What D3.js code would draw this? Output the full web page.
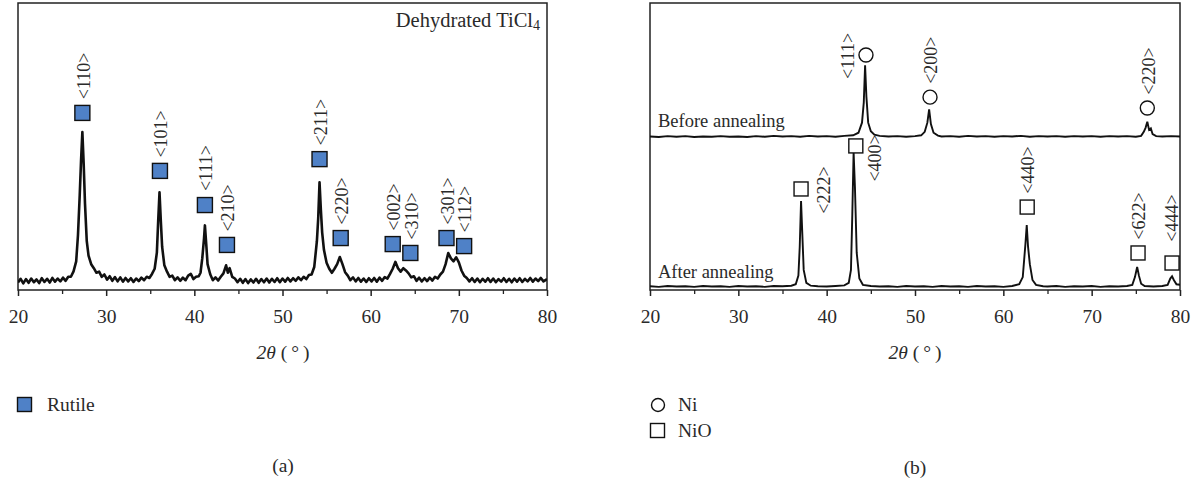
<!DOCTYPE html>
<html>
<head>
<meta charset="utf-8">
<script src="https://cdn.jsdelivr.net/npm/d3@7"></script>
<style>
  body { margin: 0; background: #fff; }
  svg { display: block; font-family: "Liberation Serif", "DejaVu Serif", serif; }
  text { fill: #2a2a2a; }
</style>
</head>
<body>
<div id="chart"></div>
<script>
//axe 2theta commun aux deux diffractogrammes
var majorTicks = [20, 30, 40, 50, 60, 70, 80];
var minorTicks = [25, 35, 45, 55, 65, 75];

//(a) diffractogramme TiCl4 deshydrate : [2theta, intensite]
var rutileCurve = [
  [20.0, 2.6], [20.3, 3.9], [20.6, 2.3], [20.9, 3.8], [21.2, 2.5], [21.5, 4.0], [21.8, 2.7],
  [22.1, 3.7], [22.4, 2.4], [22.7, 4.1], [23.0, 2.8], [23.3, 3.9], [23.6, 2.6], [23.9, 4.2],
  [24.2, 2.9], [24.5, 4.0], [24.8, 3.0], [25.1, 4.3], [25.4, 3.2], [25.7, 4.6], [26.0, 4.6],
  [26.3, 6.5], [26.6, 10], [26.8, 19], [27.0, 33], [27.15, 45], [27.3, 55], [27.45, 44],
  [27.6, 30], [27.8, 17], [28.0, 12], [28.3, 9.0], [28.6, 7.6], [28.9, 6.0], [29.2, 6.4],
  [29.5, 4.6], [29.8, 5.4], [30.1, 3.6], [30.4, 4.8], [30.7, 3.2], [31.0, 4.5], [31.3, 3.0],
  [31.6, 4.4], [31.9, 2.9], [32.2, 4.2], [32.5, 3.0], [32.8, 4.1], [33.1, 2.8], [33.4, 4.0],
  [33.7, 3.1], [34.0, 4.3], [34.3, 3.4], [34.6, 4.6], [34.9, 4.2], [35.2, 5.6], [35.5, 7.4],
  [35.75, 13], [35.9, 24], [36.05, 34], [36.2, 24], [36.35, 15], [36.6, 8.6], [36.9, 6.4],
  [37.2, 4.6], [37.5, 5.0], [37.8, 3.4], [38.1, 4.4], [38.4, 3.2], [38.7, 4.3], [39.0, 3.4],
  [39.3, 5.0], [39.6, 5.6], [39.9, 3.8], [40.2, 4.6], [40.5, 4.8], [40.7, 6.0], [40.9, 11],
  [41.1, 18], [41.2, 22.5], [41.35, 16], [41.5, 9.0], [41.8, 5.5], [42.1, 3.4], [42.4, 4.4],
  [42.7, 3.3], [43.0, 4.6], [43.3, 5.8], [43.6, 8.6], [43.8, 6.0], [44.0, 7.6], [44.3, 4.6],
  [44.6, 4.0], [44.9, 2.7], [45.2, 3.9], [45.5, 2.5], [45.8, 3.8], [46.1, 2.4], [46.4, 3.7],
  [46.7, 2.6], [47.0, 3.9], [47.3, 2.5], [47.6, 3.8], [47.9, 2.7], [48.2, 4.0], [48.5, 2.6],
  [48.8, 3.9], [49.1, 2.8], [49.4, 4.1], [49.7, 2.7], [50.0, 4.0], [50.3, 2.9], [50.6, 4.2],
  [50.9, 3.0], [51.2, 4.1], [51.5, 3.2], [51.8, 4.4], [52.1, 3.4], [52.4, 4.6], [52.7, 3.8],
  [53.0, 5.2], [53.3, 5.4], [53.6, 8.0], [53.9, 17], [54.05, 25], [54.2, 37.5], [54.35, 28],
  [54.5, 20], [54.7, 14], [55.0, 9.5], [55.3, 7.4], [55.6, 6.0], [55.9, 7.4], [56.2, 9.0],
  [56.5, 11.5], [56.8, 9.0], [57.1, 6.2], [57.4, 5.0], [57.7, 3.4], [58.0, 4.4], [58.3, 3.0],
  [58.6, 4.2], [58.9, 2.9], [59.2, 4.0], [59.5, 2.8], [59.8, 4.1], [60.1, 3.0], [60.4, 4.2],
  [60.7, 2.9], [61.0, 4.3], [61.3, 3.2], [61.6, 4.5], [61.9, 4.0], [62.2, 5.6], [62.5, 7.4],
  [62.8, 9.8], [63.1, 7.6], [63.4, 6.4], [63.7, 7.6], [64.0, 6.8], [64.3, 5.8], [64.6, 4.4],
  [64.9, 4.8], [65.2, 3.2], [65.5, 4.3], [65.8, 3.0], [66.1, 4.1], [66.4, 3.1], [66.7, 4.3],
  [67.0, 3.3], [67.3, 4.6], [67.6, 4.0], [67.9, 5.4], [68.2, 6.4], [68.5, 9.0], [68.8, 12.9],
  [69.1, 11.0], [69.4, 10.0], [69.7, 11.4], [70.0, 9.6], [70.3, 6.8], [70.6, 5.0], [70.9, 4.2],
  [71.2, 3.0], [71.5, 4.1], [71.8, 2.8], [72.1, 4.0], [72.4, 2.7], [72.7, 3.9], [73.0, 2.9],
  [73.3, 4.1], [73.6, 2.8], [73.9, 4.0], [74.2, 2.7], [74.5, 3.8], [74.8, 2.9], [75.1, 4.1],
  [75.4, 2.8], [75.7, 3.9], [76.0, 2.7], [76.3, 4.0], [76.6, 2.9], [76.9, 4.1], [77.2, 2.8],
  [77.5, 3.9], [77.8, 3.0], [78.1, 4.2], [78.4, 2.9], [78.7, 4.0], [79.0, 3.1], [79.3, 4.2],
  [79.6, 3.0], [80.0, 3.8]
];

//pics du rutile : indice, position du marqueur (2theta, intensite)
var rutileHkl = ["<110>", "<101>", "<111>", "<210>", "<211>", "<220>", "<002>", "<310>", "<301>", "<112>"];
var rutileX   = [27.3, 36.1, 41.2, 43.7, 54.2, 56.6, 62.5, 64.5, 68.6, 70.6];
var rutileY   = [61.7, 41.5, 29.6, 15.7, 45.6, 18.1, 16.0, 12.9, 18.1, 15.3];

//(b) diffractogrammes Ni avant / apres recuit (intensite relative a la ligne de base)
var beforeOffset = 53.3;
var afterOffset = 1.0;

var beforeCurve = [
  [20, 0.2], [21, 0.0], [22, 0.3], [23, 0.1], [24, 0.3], [25, 0.0], [26, 0.2], [27, 0.1],
  [28, 0.3], [29, 0.1], [30, 0.2], [31, 0.0], [32, 0.3], [33, 0.1], [34, 0.4], [35, 0.2],
  [36, 0.3], [37, 0.1], [38, 0.4], [39, 0.2], [40, 0.3], [41, 0.1], [42, 0.4], [43, 0.6],
  [43.6, 1.5], [44.0, 5.0], [44.2, 12], [44.35, 25], [44.5, 14], [44.7, 5.0], [45.0, 2.0],
  [45.4, 0.8], [46, 0.4], [47, 0.2], [48, 0.3], [49, 0.1], [50, 0.3], [50.7, 0.6],
  [51.1, 1.8], [51.4, 5.0], [51.6, 9.6], [51.8, 4.5], [52.1, 1.5], [52.6, 0.5], [53, 0.2],
  [54, 0.3], [55, 0.1], [56, 0.4], [57, 0.2], [58, 0.3], [59, 0.1], [60, 0.3], [61, 0.2],
  [62, 0.4], [63, 0.1], [64, 0.3], [65, 0.2], [66, 0.3], [67, 0.1], [68, 0.3], [69, 0.2],
  [70, 0.3], [71, 0.1], [72, 0.3], [73, 0.2], [74, 0.3], [75, 0.1], [75.6, 0.4], [75.9, 1.8],
  [76.1, 3.2], [76.3, 5.3], [76.5, 2.5], [76.7, 3.0], [76.9, 1.0], [77.3, 0.3], [78, 0.2],
  [79, 0.3], [80, 0.2]
];

var afterCurve = [
  [20, 0.3], [21, 0.1], [22, 0.4], [23, 0.2], [24, 0.3], [25, 0.1], [26, 0.4], [27, 0.2],
  [28, 0.3], [29, 0.1], [30, 0.4], [31, 0.2], [32, 0.3], [33, 0.1], [34, 0.4], [35, 0.3],
  [36, 0.5], [36.5, 1.0], [36.8, 4.0], [36.95, 14], [37.1, 30], [37.25, 18], [37.4, 6.0],
  [37.7, 1.5], [38.2, 0.5], [39, 0.3], [40, 0.2], [41, 0.4], [42, 0.6], [42.5, 1.5],
  [42.75, 6.0], [42.9, 25], [43.05, 47], [43.2, 35], [43.4, 12], [43.7, 3.0], [44.1, 0.8],
  [45, 0.4], [46, 0.2], [47, 0.3], [48, 0.1], [49, 0.4], [50, 0.2], [51, 0.3], [52, 0.1],
  [53, 0.4], [54, 0.2], [55, 0.3], [56, 0.1], [57, 0.4], [58, 0.2], [59, 0.3], [60, 0.1],
  [61, 0.4], [61.8, 1.0], [62.2, 3.5], [62.5, 15], [62.65, 21.6], [62.8, 14], [63.0, 8.0],
  [63.3, 2.5], [63.7, 0.8], [64.5, 0.3], [65, 0.2], [66, 0.4], [67, 0.1], [68, 0.3], [69, 0.2],
  [70, 0.4], [71, 0.1], [72, 0.3], [73, 0.2], [74, 0.4], [74.6, 0.8], [74.9, 3.5], [75.15, 7.0],
  [75.35, 4.0], [75.6, 1.2], [76, 0.4], [77, 0.2], [78, 0.4], [78.6, 0.8], [78.9, 3.0],
  [79.1, 3.8], [79.3, 2.5], [79.6, 1.0], [80, 0.8]
];

//marqueurs Ni (cercles) et NiO (carres)
var niHkl = ["<111>", "<200>", "<220>"];
var niX   = [44.45, 51.7, 76.3];
var niY   = [81.9, 67.2, 63.4];
var niLabelSide = ["left", "above", "above"];

var nioHkl = ["<222>", "<400>", "<440>", "<622>", "<444>"];
var nioX   = [37.1, 43.3, 62.7, 75.25, 79.1];
var nioY   = [35.2, 50.2, 28.9, 12.9, 9.4];
var nioLabelSide = ["right", "rightlow", "above", "above", "high"];

var width = 1199, height = 484;
var plotTop = 3, plotBottom = 290;

var svg = d3.select("#chart").append("svg")
  .attr("width", width)
  .attr("height", height);

//decalage des etiquettes selon leur position
function labelOffset(side){
  if (side == "left") return [-18, 1];
  if (side == "right") return [23, 1];
  if (side == "rightlow") return [19, 12];
  if (side == "high") return [0, -45];
  return [1, -37];
}

//dessine un cadre, les axes et le titre de l'axe x
function drawFrame(g, x, cx, id){
  g.append("clipPath").attr("id", id)
    .append("rect")
      .attr("x", x.range()[0]).attr("y", plotTop)
      .attr("width", x.range()[1] - x.range()[0]).attr("height", plotBottom - plotTop);

  g.append("g")
      .attr("transform", `translate(0,${plotBottom})`)
      .call(d3.axisBottom(x).tickValues(minorTicks).tickSize(4).tickFormat(""))
      .call(a => a.select(".domain").remove())
      .call(a => a.selectAll("line").attr("stroke", "#222").attr("stroke-width", 1.3));

  g.append("g")
      .attr("transform", `translate(0,${plotBottom})`)
      .call(d3.axisBottom(x).tickValues(majorTicks).tickSize(6).tickPadding(13).tickFormat(d3.format("d")))
      .call(a => a.select(".domain").remove())
      .call(a => a.selectAll("line").attr("stroke", "#222").attr("stroke-width", 1.5))
      .call(a => a.selectAll("text")
          .attr("font-family", "Liberation Serif, serif")
          .attr("font-size", 19.5)
          .attr("fill", "#2a2a2a"));

  g.append("rect")
      .attr("x", x.range()[0]).attr("y", plotTop)
      .attr("width", x.range()[1] - x.range()[0]).attr("height", plotBottom - plotTop)
      .attr("fill", "none")
      .attr("stroke", "#222")
      .attr("stroke-width", 1.5);

  var t = g.append("text")
      .attr("x", cx).attr("y", 359)
      .attr("text-anchor", "middle")
      .attr("font-size", 19.5);
  t.append("tspan").attr("font-style", "italic").text("2θ");
  t.append("tspan").text(" (\u2009°\u2009)");
}

//etiquette hkl tournee
function hklLabel(g, px, py, txt){
  g.append("text")
    .attr("transform", `translate(${px},${py}) rotate(-90)`)
    .attr("text-anchor", "middle")
    .attr("dy", "0.35em")
    .attr("font-size", 18)
    .attr("fill", "#3a3a3a")
    .text(txt);
}

//----- (a) -----
var xa = d3.scaleLinear().domain([20, 80]).range([18, 547]);
var ya = d3.scaleLinear().domain([0, 100]).range([plotBottom, plotTop]);
var ga = svg.append("g");

drawFrame(ga, xa, 283, "clipa");

ga.append("path")
  .datum(rutileCurve)
  .attr("clip-path", "url(#clipa)")
  .attr("fill", "none")
  .attr("stroke", "#111")
  .attr("stroke-width", 2.6)
  .attr("stroke-linejoin", "round")
  .attr("d", d3.line().x(d => xa(d[0])).y(d => ya(d[1])));

rutileHkl.forEach((h, i) => {
  var px = xa(rutileX[i]), py = ya(rutileY[i]);
  ga.append("rect")
    .attr("x", px - 7.5).attr("y", py - 7.5)
    .attr("width", 15).attr("height", 15)
    .attr("fill", "#4f81c7")
    .attr("stroke", "#111")
    .attr("stroke-width", 1.4);
  var o = labelOffset("above");
  hklLabel(ga, px + o[0], py + o[1], h);
});

var dt = ga.append("text")
  .attr("x", 540).attr("y", 27)
  .attr("text-anchor", "end")
  .attr("font-size", 20.5);
dt.append("tspan").text("Dehydrated TiCl");
dt.append("tspan").attr("font-size", 14).attr("dy", 3).text("4");

//legende (a)
ga.append("rect")
  .attr("x", 17.5).attr("y", 397.5).attr("width", 14).attr("height", 14)
  .attr("fill", "#4f81c7").attr("stroke", "#111").attr("stroke-width", 1.4);
ga.append("text").attr("x", 47).attr("y", 411).attr("font-size", 19.5).text("Rutile");

ga.append("text").attr("x", 283).attr("y", 472)
  .attr("text-anchor", "middle").attr("font-size", 19.5).text("(a)");

//----- (b) -----
var xb = d3.scaleLinear().domain([20, 80]).range([650, 1180]);
var yb = d3.scaleLinear().domain([0, 100]).range([plotBottom, plotTop]);
var gb = svg.append("g");

drawFrame(gb, xb, 915, "clipb");

var lineBefore = d3.line().x(d => xb(d[0])).y(d => yb(d[1] + beforeOffset));
var lineAfter = d3.line().x(d => xb(d[0])).y(d => yb(d[1] + afterOffset));

gb.append("path")
  .datum(beforeCurve)
  .attr("clip-path", "url(#clipb)")
  .attr("fill", "none")
  .attr("stroke", "#111")
  .attr("stroke-width", 1.9)
  .attr("d", lineBefore);

gb.append("path")
  .datum(afterCurve)
  .attr("clip-path", "url(#clipb)")
  .attr("fill", "none")
  .attr("stroke", "#111")
  .attr("stroke-width", 1.9)
  .attr("d", lineAfter);

gb.append("text").attr("x", 658).attr("y", 127).attr("font-size", 18.5).text("Before annealing");
gb.append("text").attr("x", 658).attr("y", 278).attr("font-size", 18.5).text("After annealing");

niHkl.forEach((h, i) => {
  var px = xb(niX[i]), py = yb(niY[i]);
  gb.append("circle")
    .attr("cx", px).attr("cy", py).attr("r", 7)
    .attr("fill", "#fff").attr("stroke", "#111").attr("stroke-width", 1.4);
  var o = labelOffset(niLabelSide[i]);
  hklLabel(gb, px + o[0], py + o[1], h);
});

nioHkl.forEach((h, i) => {
  var px = xb(nioX[i]), py = yb(nioY[i]);
  gb.append("rect")
    .attr("x", px - 7).attr("y", py - 7)
    .attr("width", 14).attr("height", 14)
    .attr("fill", "#fff").attr("stroke", "#111").attr("stroke-width", 1.4);
  var o = labelOffset(nioLabelSide[i]);
  hklLabel(gb, px + o[0], py + o[1], h);
});

//legende (b)
gb.append("circle").attr("cx", 658).attr("cy", 405).attr("r", 6.5)
  .attr("fill", "#fff").attr("stroke", "#111").attr("stroke-width", 1.4);
gb.append("text").attr("x", 678).attr("y", 411).attr("font-size", 19.5).text("Ni");
gb.append("rect").attr("x", 650.5).attr("y", 423.5).attr("width", 14).attr("height", 14)
  .attr("fill", "#fff").attr("stroke", "#111").attr("stroke-width", 1.4);
gb.append("text").attr("x", 678).attr("y", 437).attr("font-size", 19.5).text("NiO");

gb.append("text").attr("x", 915).attr("y", 474)
  .attr("text-anchor", "middle").attr("font-size", 19.5).text("(b)");
</script>
</body>
</html>
